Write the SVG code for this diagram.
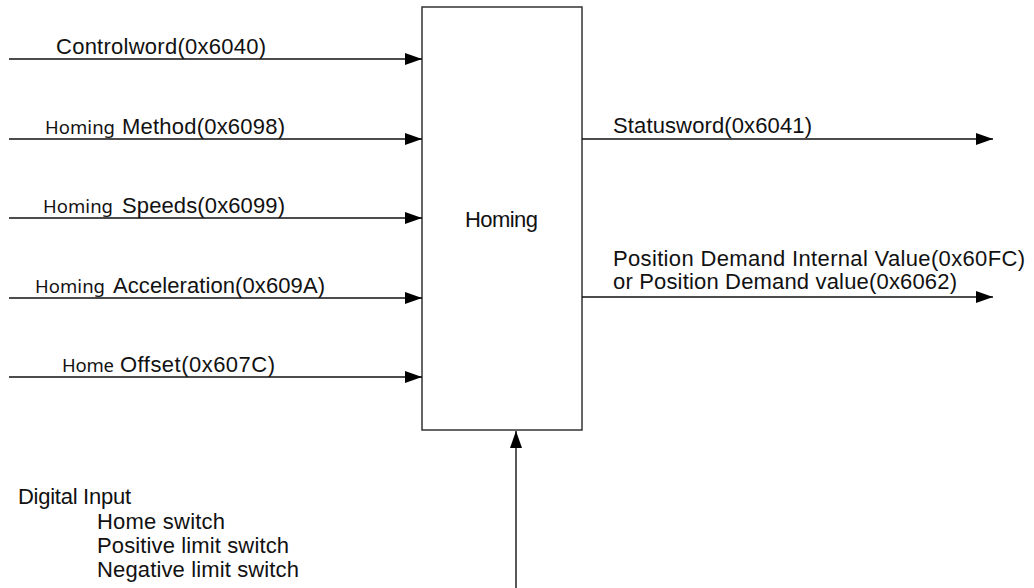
<svg xmlns="http://www.w3.org/2000/svg" width="1034" height="588" viewBox="0 0 1034 588">
<style>
.t{font-family:"Liberation Sans",Arial,sans-serif;font-size:22px;fill:#111}
.h{font-family:"Noto Sans","Open Sans",sans-serif;font-size:18.5px;fill:#111}
.c{stroke:#111;stroke-width:1.4;fill:none}
.box{fill:#fff;stroke:#333;stroke-width:1.5}
</style>
<defs>
<marker id="ah" markerUnits="userSpaceOnUse" markerWidth="18" markerHeight="12" refX="17" refY="6" orient="auto">
<path d="M0,0 L17,6 L0,12 z" fill="#000"/>
</marker>
</defs>
<g id="homing">
<rect class="box" x="422" y="7" width="160" height="423"/>
<text class="t" x="465" y="227" textLength="73">Homing</text>
</g>
<g id="connectors">
<line class="c" x1="9" y1="59" x2="422" y2="59" marker-end="url(#ah)"/>
<line class="c" x1="9" y1="139" x2="422" y2="139" marker-end="url(#ah)"/>
<line class="c" x1="9" y1="218" x2="422" y2="218" marker-end="url(#ah)"/>
<line class="c" x1="9" y1="298" x2="422" y2="298" marker-end="url(#ah)"/>
<line class="c" x1="9" y1="377" x2="422" y2="377" marker-end="url(#ah)"/>
<line class="c" x1="582" y1="139" x2="993" y2="139" marker-end="url(#ah)"/>
<line class="c" x1="582" y1="297" x2="993" y2="297" marker-end="url(#ah)"/>
<line class="c" x1="516" y1="588" x2="516" y2="431" marker-end="url(#ah)"/>
</g>
<g id="in-controlword">
<text class="t" x="56" y="54" textLength="210">Controlword(0x6040)</text>
</g>
<g id="in-method">
<text class="h" x="45" y="134" textLength="70">Homing</text>
<text class="t" x="122" y="134" textLength="163">Method(0x6098)</text>
</g>
<g id="in-speeds">
<text class="h" x="43" y="213" textLength="70">Homing</text>
<text class="t" x="122" y="213" textLength="163">Speeds(0x6099)</text>
</g>
<g id="in-acceleration">
<text class="h" x="35" y="293" textLength="70">Homing</text>
<text class="t" x="113" y="293" textLength="212">Acceleration(0x609A)</text>
</g>
<g id="in-offset">
<text class="h" x="62" y="372" textLength="52">Home</text>
<text class="t" x="120" y="372" textLength="155">Offset(0x607C)</text>
</g>
<g id="out-statusword">
<text class="t" x="613" y="133" textLength="199">Statusword(0x6041)</text>
</g>
<g id="out-position">
<text class="t" x="613" y="266" textLength="412">Position Demand Internal Value(0x60FC)</text>
<text class="t" x="613" y="289" textLength="344">or Position Demand value(0x6062)</text>
</g>
<g id="digital-input">
<text class="t" x="18" y="504" textLength="113">Digital Input</text>
<text class="t" x="97" y="529" textLength="128">Home switch</text>
<text class="t" x="97" y="553" textLength="192">Positive limit switch</text>
<text class="t" x="97" y="577" textLength="202">Negative limit switch</text>
</g>
</svg>
